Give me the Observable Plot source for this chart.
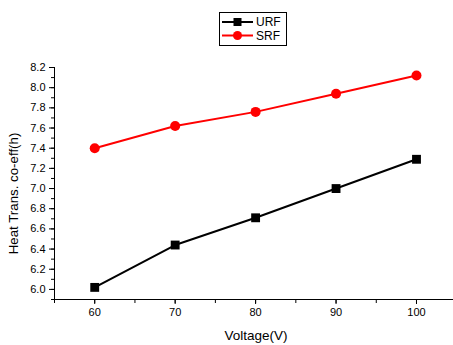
<!DOCTYPE html>
<html>
<head>
<meta charset="utf-8">
<script src="https://cdn.jsdelivr.net/npm/d3@7"></script>
<script src="https://cdn.jsdelivr.net/npm/@observablehq/plot@0.6"></script>
<style>
  html, body { margin: 0; padding: 0; background: #fff; overflow: hidden; }
  #wrap { position: relative; width: 453px; height: 345px; font-family: "Liberation Sans", Arial, sans-serif; }
  #legend { position: absolute; left: 219px; top: 12px; width: 68px; height: 34px; border: 1px solid #000; box-sizing: border-box; background: #fff; }
</style>
</head>
<body>
<div id="wrap"></div>
<script>
// Voltage settings (V)
const voltage = [60, 70, 80, 90, 100];
// Heat transfer coefficient for each fin type
const urf = [6.02, 6.44, 6.71, 7.00, 7.29];
const srf = [7.40, 7.62, 7.76, 7.94, 8.12];
const seriesNames = ["URF", "SRF"];
const xMajor = [60, 70, 80, 90, 100];
const yMajor = [6.0, 6.2, 6.4, 6.6, 6.8, 7.0, 7.2, 7.4, 7.6, 7.8, 8.0, 8.2];

const rowsURF = voltage.map((v, i) => ({v, h: urf[i]}));
const rowsSRF = voltage.map((v, i) => ({v, h: srf[i]}));

const xMinor = d3.range(55, 105, 5);
const yMinor = d3.range(59, 83, 1).map(d => d / 10);

const chart = Plot.plot({
  width: 453,
  height: 345,
  marginLeft: 54,
  marginRight: 0,
  marginTop: 67,
  marginBottom: 46,
  style: {fontFamily: "Liberation Sans, Arial, sans-serif", fontSize: "11px", color: "#000", background: "#fff"},
  x: {domain: [55, 104.6]},
  y: {domain: [5.9, 8.2]},
  marks: [
    // minor ticks
    Plot.axisX({ticks: xMinor, tickSize: 4, tickFormat: () => "", label: null}),
    Plot.axisY({ticks: yMinor, tickSize: 3, tickFormat: () => "", label: null}),
    // major ticks with labels
    Plot.axisX({ticks: xMajor, tickSize: 5, tickPadding: 4, tickFormat: d => String(d),
      label: "Voltage(V)", labelAnchor: "center", labelArrow: "none", labelOffset: 40, fontSize: 11}),
    Plot.axisY({ticks: yMajor, tickSize: 5, tickPadding: 4, tickFormat: d => d.toFixed(1),
      label: "Heat Trans. co-eff(h)", labelAnchor: "center", labelArrow: "none", labelOffset: 46, fontSize: 11}),
    // axis lines
    Plot.ruleX([55], {stroke: "#000", strokeWidth: 1}),
    Plot.ruleY([5.9], {stroke: "#000", strokeWidth: 1}),
    // series
    Plot.line(rowsURF, {x: "v", y: "h", stroke: "#000", strokeWidth: 2}),
    Plot.dot(rowsURF, {x: "v", y: "h", symbol: "square", r: 5, fill: "#000"}),
    Plot.line(rowsSRF, {x: "v", y: "h", stroke: "#ff0000", strokeWidth: 2}),
    Plot.dot(rowsSRF, {x: "v", y: "h", symbol: "circle", r: 5, fill: "#ff0000"})
  ]
});

// axis titles a bit larger than tick labels
d3.select(chart).selectAll("[aria-label='x-axis label'] text")
  .style("font-size", "13.5px").attr("dx", 2);
d3.select(chart).selectAll("[aria-label='y-axis label'] text")
  .style("font-size", "13.3px").attr("dx", -10);

const wrap = document.getElementById("wrap");
wrap.appendChild(chart);

// legend box
const legend = document.createElement("div");
legend.id = "legend";
wrap.appendChild(legend);
const lsvg = d3.select(legend).append("svg").attr("width", 66).attr("height", 32);
const colors = ["#000", "#ff0000"];
seriesNames.forEach((name, i) => {
  const y = 9 + i * 13.5;
  lsvg.append("line").attr("x1", 2).attr("x2", 33).attr("y1", y).attr("y2", y)
    .attr("stroke", colors[i]).attr("stroke-width", 2);
  if (i === 0) {
    lsvg.append("rect").attr("x", 13.5).attr("y", y - 4).attr("width", 8).attr("height", 8).attr("fill", colors[i]);
  } else {
    lsvg.append("circle").attr("cx", 17.5).attr("cy", y).attr("r", 4.5).attr("fill", colors[i]);
  }
  lsvg.append("text").attr("x", 36).attr("y", y + 4.3).text(name)
    .attr("font-size", "12px").attr("font-family", "Liberation Sans, Arial, sans-serif");
});
</script>
</body>
</html>
